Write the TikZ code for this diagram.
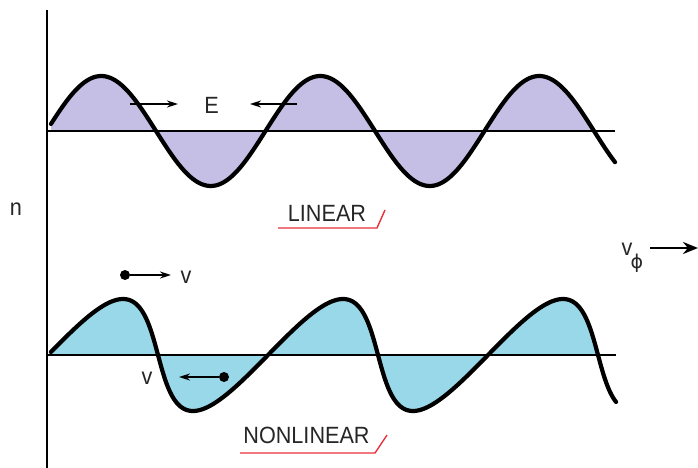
\documentclass[tikz,border=0pt]{standalone}
\usepackage{fontspec}
\setmainfont{Liberation Sans}
\newfontfamily\greekfont{DejaVu Sans}
\newfontfamily\narrowfont[FakeStretch=0.92]{Liberation Sans}
\usetikzlibrary{arrows.meta}
\definecolor{lav}{HTML}{C5BFE5}
\definecolor{sky}{HTML}{99D8E9}
\definecolor{redline}{HTML}{E8323C}
\begin{document}
\begin{tikzpicture}[x=1pt,y=-1pt,
  wave/.style={line width=4.2pt, line join=round, line cap=round},
  base/.style={line width=1.4pt},
  lbl/.style={inner sep=0pt, text=black!85, font=\narrowfont\fontsize{23.5}{25}\selectfont},
  arr/.style={line width=1.7pt, -{Stealth[length=11pt,width=7pt]}},
  uline/.style={redline, line width=1.4pt},
  dotc/.style={circle, fill=black, inner sep=0pt, minimum size=10pt}]
\useasboundingbox (0,0) rectangle (698,468);
\fill[white] (0,0) rectangle (698,468);

% vertical axis
\coordinate (axtop) at (47,10);
\coordinate (axbot) at (47,468);
\draw[line width=2pt] (axtop) -- (axbot);

% ---------- linear wave ----------
\fill[lav] (51,131) -- plot[domain=7.4:900, samples=220, smooth]
  ({46.5+0.60833*\x},{131-55*sin(\x)}) -- cycle;
\coordinate (lb0) at (47,131);
\coordinate (lb1) at (615,131);
\draw[base] (lb0) -- (lb1);
\draw[wave] plot[domain=7.4:934.5, samples=240, smooth]
  ({46.5+0.60833*\x},{131-55*sin(\x)});

\coordinate (e1s) at (130,104);
\coordinate (e1e) at (178,104);
\draw[arr] (e1s) -- (e1e);
\node[lbl] (E) at (211.5,105.5) {E};
\coordinate (e2s) at (297,104);
\coordinate (e2e) at (250,104);
\draw[arr] (e2s) -- (e2e);

\node[lbl] (lin) at (327,213) {LINEAR};
\coordinate (u1a) at (278,228);
\coordinate (u1b) at (377,228);
\coordinate (u1c) at (385,210);
\draw[uline] (u1a) -- (u1b) -- (u1c);

% ---------- nonlinear wave ----------
\fill[sky] (51,355) -- plot[domain=3:900, samples=260, smooth]
  ({48+0.61111*\x+20*sin(\x)},{355-56*sin(\x)}) -- cycle;
\coordinate (nb0) at (47,355);
\coordinate (nb1) at (616,355);
\draw[base] (nb0) -- (nb1);
\draw[wave] plot[domain=3:957, samples=280, smooth]
  ({48+0.61111*\x+20*sin(\x)},{355-56*sin(\x)});

\node[dotc] (d1) at (125,275) {};
\coordinate (d1e) at (171,275);
\draw[arr] (d1) -- (d1e);
\node[lbl] (v1) at (186,277) {v};

\node[dotc] (d2) at (224,377) {};
\coordinate (d2e) at (179,377);
\draw[arr] (d2) -- (d2e);
\node[lbl] (v2) at (147,378) {v};

\node[lbl] (nonlin) at (306.5,435.5) {NONLINEAR};
\coordinate (u2a) at (240,453);
\coordinate (u2b) at (375,453);
\coordinate (u2c) at (387,435);
\draw[uline] (u2a) -- (u2b) -- (u2c);

% ---------- labels ----------
\node[lbl] (n) at (16,209) {n};
\node[lbl] (vphi) at (627,249) {v};
\node[inner sep=0pt, text=black!85, font=\greekfont\fontsize{19}{20}\selectfont] (phi) at (637,263) {ϕ};
\coordinate (ps) at (650,248);
\coordinate (pe) at (698,248);
\draw[line width=2.6pt, -{Stealth[length=15pt,width=12pt]}] (ps) -- (pe);
\end{tikzpicture}
\end{document}
